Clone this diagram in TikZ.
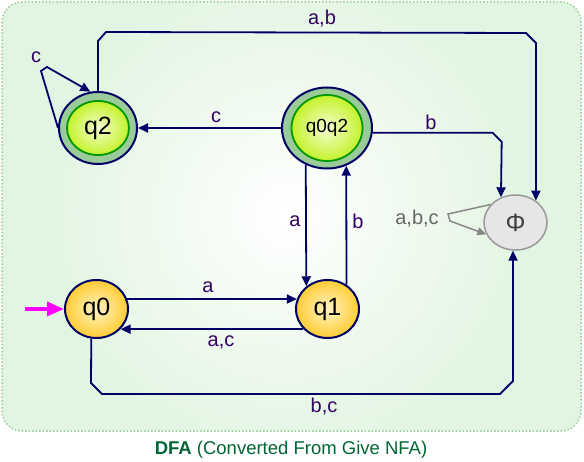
\documentclass[tikz,border=0pt]{standalone}
\usepackage{fontspec}
\setmainfont{Liberation Sans}
\usetikzlibrary{shapes.geometric, arrows.meta}
\definecolor{edgeblue}{HTML}{000066}
\definecolor{lblpurple}{HTML}{330066}
\definecolor{bggreen}{HTML}{E2F5E2}
\definecolor{bgborder}{HTML}{99CC99}
\definecolor{accring}{HTML}{99CC99}
\definecolor{accline}{HTML}{009900}
\definecolor{acclight}{HTML}{F4FFD0}
\definecolor{accdark}{HTML}{C4F22A}
\definecolor{stlight}{HTML}{FFF4C4}
\definecolor{stdark}{HTML}{FFCC33}
\definecolor{deadfill}{HTML}{E6E6E6}
\definecolor{deadline}{HTML}{999999}
\definecolor{loopgray}{HTML}{888888}
\definecolor{initpink}{HTML}{FF00FF}
\definecolor{capgreen}{HTML}{006633}
\tikzset{
  ring/.style={ellipse, draw=edgeblue, line width=2pt, fill=accring, inner sep=0pt},
  core/.style={ellipse, draw=accline, line width=1.8pt, inner color=acclight, outer color=accdark, inner sep=0pt, font=\fontsize{25}{27}\selectfont},
  state/.style={ellipse, draw=edgeblue, line width=2pt, inner color=stlight, outer color=stdark, inner sep=0pt, minimum width=63pt, minimum height=58pt, font=\fontsize{25}{27}\selectfont},
  dead/.style={ellipse, draw=deadline, line width=1.5pt, fill=deadfill, inner sep=0pt, minimum width=63pt, minimum height=55pt, text=black!75, font=\fontsize{25}{27}\selectfont},
  trans/.style={draw=edgeblue, line width=1.8pt, -{Triangle[length=10pt,width=9pt]}},
  selfgray/.style={draw=loopgray, line width=1.5pt, -{Triangle[length=9pt,width=8pt]}},
  init/.style={draw=initpink, line width=3.5pt, -{Triangle[length=17pt,width=14pt]}},
  lbl/.style={text=lblpurple, font=\fontsize{20}{22}\selectfont},
  caption/.style={text=capgreen, font=\fontsize{18.5}{20}\selectfont},
}
\begin{document}
\begin{tikzpicture}[x=1pt, y=-1pt]
    \useasboundingbox (0,0) rectangle (584,462);
    % background panel
    \begin{scope}
        \clip[rounded corners=20pt] (2,2) rectangle (581,431);
        \fill[bggreen] (0,0) rectangle (584,462);
        \shade[inner color=white, outer color=bggreen] (285,215) circle (240);
    \end{scope}
    \draw[bgborder, line width=1.5pt, dotted, rounded corners=20pt] (2,2) rectangle (581,431);
    % states
    \node[ring, minimum width=78pt, minimum height=72pt] (q2) at (98,128) {};
    \node[core, minimum width=62pt, minimum height=54pt] (q2i) at (q2) {q2};
    \node[ring, minimum width=90pt, minimum height=81pt] (q0q2) at (327,128) {};
    \node[core, minimum width=71pt, minimum height=66pt, font=\fontsize{19}{21}\selectfont] (q0q2i) at (q0q2) {q0q2};
    \node[state] (q0) at (96.5,309) {q0};
    \node[state] (q1) at (327.5,309) {q1};
    \node[dead] (phi) at (515.5,222.5) {Φ};
    \coordinate (start) at (25,309);
    % transitions
    \draw[init] (start) -- (q0.west);
    \draw[trans] (q2.north) -- ++(0,-50) -- ++(8,-9) -- (526,33) -- ++(10,10) -- (phi.47);
    \draw[trans] (q0q2.west) -- (q2.east);
    \draw[trans] (q2.180) -- (41,71) -- (47,67) -- (q2.102);
    \draw[trans] (q0q2.-6) -- ++(120,0) -- ++(9,9) -- (phi.120);
    \draw[trans] (q0q2.240) -- (q1.133);
    \draw[trans] (q1.52) -- (q0q2.297);
    \draw[trans] (q0.18) -- (q1.162);
    \draw[trans] (q1.220) -- (q0.320);
    \draw[trans] (q0.260) -- (91,383) -- ++(11,11) -- (500,394) -- ++(13,-13) -- (phi.265);
    \draw[selfgray] (phi.144) -- (448,214) -- (450,221) -- (phi.202);
    % labels
    \node[lbl] (lab) at (322,19) {a,b};
    \node[lbl] (lc1) at (36,57) {c};
    \node[lbl] (lc2) at (216,117) {c};
    \node[lbl] (lb1) at (431,122) {b};
    \node[lbl] (la1) at (295,221) {a};
    \node[lbl] (lb2) at (358,221) {b};
    \node[lbl, text=black!60] (labc) at (417,219) {a,b,c};
    \node[lbl] (la2) at (208,287) {a};
    \node[lbl] (lac) at (221,342) {a,c};
    \node[lbl] (lbc) at (324,407) {b,c};
    \node[caption] (cap) at (291,450) {\textbf{DFA} (Converted From Give NFA)};
\end{tikzpicture}
\end{document}
